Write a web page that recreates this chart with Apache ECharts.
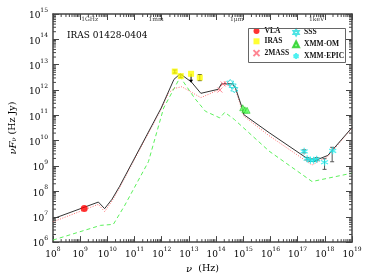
<!DOCTYPE html>
<html><head><meta charset="utf-8">
<script src="https://cdn.jsdelivr.net/npm/echarts@6/dist/echarts.min.js"></script>
<style>html,body{margin:0;padding:0;background:#fff}#c{width:374px;height:279px}</style>
</head><body><div id="c"></div>
<script>
// ---- data (log10 values) ----
const xTickExps = [8,9,10,11,12,13,14,15,16,17,18,19];
const yTickExps = [6,7,8,9,10,11,12,13,14,15];
const topLabelNames = ['1GHz','1mm','1\u03bcm','1keV'];
const topLabelLogNu = [9, 11.477, 14.477, 17.383];

const totalModel = [[8.0,6.92],[9.67,7.58],[9.90,7.32],[10.17,7.69],[10.45,8.20],[11.98,11.29],[12.45,12.42],[12.68,12.64],[13.09,12.32],[13.44,11.87],[14.08,12.03],[14.20,12.25],[14.61,12.25],[14.72,12.06],[14.96,11.29],[15.02,11.03],[15.95,10.32],[17.53,9.17],[18.11,9.42],[19.0,10.52]];
const redModel = [[8.0,6.80],[9.67,7.49],[9.90,7.20],[10.17,7.62],[10.45,8.15],[11.98,11.25],[12.25,11.88],[12.45,12.06],[12.74,12.13],[13.44,11.70],[14.08,12.0],[14.20,12.22],[14.61,12.22],[14.72,12.0],[14.96,11.20],[15.02,10.97],[15.95,10.20],[17.53,9.04],[18.11,9.38],[19.0,10.50]];
const greenModel = [[8.0,6.08],[9.75,6.66],[10.22,6.70],[10.63,7.43],[11.51,9.17],[12.07,11.29],[12.68,12.51],[13.21,11.68],[13.61,11.16],[14.14,10.90],[14.32,11.12],[14.67,10.84],[15.95,9.59],[17.53,8.39],[19.0,8.72]];

const vla = [[9.15,7.33]];
const iras = [[12.48,12.73],[12.70,12.55],[13.08,12.64],[13.40,12.49]];
const irasErr = [[12.48,12.67,12.79],[12.70,12.50,12.60],[13.40,12.37,12.61]];
const irasUpper = [[13.08,12.64]];
const twomass = [[14.14,12.00],[14.26,12.24],[14.38,12.25]];
const sss = [[14.52,12.28],[14.61,12.17],[14.67,12.03]];
const xmmom = [[14.98,11.30],[15.06,11.22],[15.14,11.20]];
const epic = [[17.24,9.58],[17.35,9.29],[17.47,9.23],[17.59,9.23],[17.70,9.27],[17.99,9.15],[18.29,9.60]];
const epicErr = [[17.24,9.52,9.64],[17.35,9.24,9.34],[17.47,9.18,9.28],[17.59,9.18,9.28],[17.70,9.21,9.33],[17.99,8.87,9.29],[18.27,9.17,9.74]];

// ---- axis decoration ----
const F = 'DejaVu Serif';
const FL = 'Liberation Serif';
const X_MIN = xTickExps[0], X_MAX = xTickExps[xTickExps.length-1];
const Y_MIN = yTickExps[0], Y_MAX = yTickExps[yTickExps.length-1];
function minorList(a,b){const o=[];for(let d=a;d<b;d++)for(let k=2;k<=9;k++)o.push(d+Math.log10(k));return o;}
const xMinor = minorList(X_MIN, X_MAX);
const yMinor = minorList(Y_MIN, Y_MAX);
const AX = '#444';

const chart = echarts.init(document.getElementById('c'), null, {renderer:'canvas'});
const supRich = {
  a:{fontFamily:F,fontSize:9,lineHeight:13,color:'#000',verticalAlign:'bottom'},
  b:{fontFamily:F,fontSize:6,lineHeight:8,color:'#000',verticalAlign:'top'}
};
const supFmt = v => '{a|10}{b|' + Math.round(v) + '}';

function axisCommon(pos, showLabel){
  return {
    type:'value', position:pos,
    min: (pos==='bottom'||pos==='top') ? X_MIN : Y_MIN,
    max: (pos==='bottom'||pos==='top') ? X_MAX : Y_MAX,
    interval:1,
    axisLine:{show:true, onZero:false, lineStyle:{color:AX, width:1.5}},
    axisTick:{show:true, inside:true, length:6, lineStyle:{color:AX, width:1}},
    splitLine:{show:false},
    axisLabel:{show:showLabel, formatter:supFmt, rich:supRich, margin:4}
  };
}

const xAxisB = axisCommon('bottom', true);
xAxisB.name = '{i|\u03bd}  (Hz)';
xAxisB.nameLocation = 'middle';
xAxisB.nameGap = 14;
xAxisB.nameTextStyle = {fontFamily:F, fontSize:9.5, color:'#000', rich:{i:{fontFamily:F,fontStyle:'italic',fontSize:10,color:'#000'}}};
const xAxisT = axisCommon('top', false);
const yAxisL = axisCommon('left', true);
yAxisL.axisLabel.margin = 5;
yAxisL.name = '{i|\u03bdF}{s|\u03bd} (Hz Jy)';
yAxisL.nameLocation = 'middle';
yAxisL.nameGap = 27;
yAxisL.nameTextStyle = {fontFamily:F, fontSize:9.5, color:'#000', rich:{i:{fontFamily:F,fontStyle:'italic',fontSize:10,color:'#000'}, s:{fontFamily:F,fontStyle:'italic',fontSize:6.5,color:'#000',verticalAlign:'bottom',lineHeight:10}}};
const yAxisR = axisCommon('right', false);

function tickSeries(list, isX){
  return {
    type:'custom', silent:true, clip:false, z:5,
    data: list.map(v => isX ? [v, Y_MIN] : [X_MIN, v]),
    encode: {x:0, y:1},
    renderItem:(p, api) => {
      const st = {stroke:AX, lineWidth:1};
      if (isX){
        const v = api.value(0);
        const b = api.coord([v, Y_MIN]), t = api.coord([v, Y_MAX]);
        return {type:'group', children:[
          {type:'line', shape:{x1:b[0],y1:b[1],x2:b[0],y2:b[1]-3}, style:st},
          {type:'line', shape:{x1:t[0],y1:t[1],x2:t[0],y2:t[1]+3}, style:st}]};
      } else {
        const v = api.value(1);
        const l = api.coord([X_MIN, v]), r = api.coord([X_MAX, v]);
        return {type:'group', children:[
          {type:'line', shape:{x1:l[0],y1:l[1],x2:l[0]+3,y2:l[1]}, style:st},
          {type:'line', shape:{x1:r[0],y1:r[1],x2:r[0]-3,y2:r[1]}, style:st}]};
      }
    }
  };
}
function errSeries(list, color){
  return {
    type:'custom', silent:true, z:6,
    data:list, encode:{x:0, y:[1,2]},
    renderItem:(p, api) => {
      const lo = api.coord([api.value(0), api.value(1)]);
      const hi = api.coord([api.value(0), api.value(2)]);
      const st = {stroke:color, lineWidth:1};
      return {type:'group', children:[
        {type:'line', shape:{x1:lo[0],y1:lo[1],x2:hi[0],y2:hi[1]}, style:st},
        {type:'line', shape:{x1:lo[0]-2,y1:lo[1],x2:lo[0]+2,y2:lo[1]}, style:st},
        {type:'line', shape:{x1:hi[0]-2,y1:hi[1],x2:hi[0]+2,y2:hi[1]}, style:st}]};
    }
  };
}
const arrowSeries = {
  type:'custom', silent:true, z:6, data:irasUpper, encode:{x:0,y:1},
  renderItem:(p, api) => {
    const c = api.coord([api.value(0), api.value(1)]);
    return {type:'group', children:[
      {type:'line', shape:{x1:c[0],y1:c[1],x2:c[0],y2:c[1]+8}, style:{stroke:'#000',lineWidth:1}},
      {type:'polygon', shape:{points:[[c[0]-2,c[1]+6],[c[0]+2,c[1]+6],[c[0],c[1]+9]]}, style:{fill:'#000'}}]};
  }
};

const lineCommon = {type:'line', symbol:'none', smooth:false, silent:true, animation:false};
const starPath = 'path://M5,0L6.44,2.5L9.33,2.5L7.89,5L9.33,7.5L6.44,7.5L5,10L3.56,7.5L0.67,7.5L2.11,5L0.67,2.5L3.56,2.5Z';
const xPath = 'path://M0,0L10,10M10,0L0,10';
const astPath = 'path://M5,0L5,10M0.67,2.5L9.33,7.5M0.67,7.5L9.33,2.5';

const legendBase = {
  orient:'vertical', top:27, itemWidth:6, itemHeight:6, itemGap:2.3, selectedMode:false, padding:0,
  textStyle:{fontFamily:FL, fontSize:7.5, fontWeight:'bold', color:'#111', lineHeight:8}
};

chart.setOption({
  animation:false,
  backgroundColor:'#fff',
  grid:{left:38, right:22, top:14, bottom:32},
  xAxis:[xAxisB, xAxisT],
  yAxis:[yAxisL, yAxisR],
  legend:[
    Object.assign({}, legendBase, {left:251, data:['VLA','IRAS','2MASS']}),
    Object.assign({}, legendBase, {left:291, data:['SSS','XMM-OM','XMM-EPIC']})
  ],
  graphic:[
    {type:'rect', left:246, top:26, shape:{width:97, height:34}, style:{fill:'none', stroke:'#666', lineWidth:1}, z:100},
    {type:'text', left:67, top:31, style:{text:'IRAS 01428-0404', font:'9px "DejaVu Serif"', fill:'#000'}}
  ],
  series:[
    tickSeries(xMinor, true),
    tickSeries(yMinor, false),
    Object.assign({}, lineCommon, {name:'green', data:greenModel, z:2, lineStyle:{color:'#5cf05c', width:1, type:[4,3]}}),
    Object.assign({}, lineCommon, {name:'red', data:redModel, z:3, lineStyle:{color:'#ff7070', width:1, type:[1,1.5]}}),
    Object.assign({}, lineCommon, {name:'total', data:totalModel, z:4, lineStyle:{color:'#333', width:1}}),
    errSeries(irasErr, '#333'),
    errSeries(epicErr, '#555'),
    arrowSeries,
    {type:'scatter', name:'VLA', data:vla, symbol:'circle', symbolSize:7, z:8, itemStyle:{color:'#ff0000'}},
    {type:'scatter', name:'IRAS', data:iras, symbol:'rect', symbolSize:6, z:8, itemStyle:{color:'#ffff00'}},
    {type:'scatter', name:'2MASS', data:twomass, symbol:xPath, symbolSize:5, z:8, itemStyle:{color:'none', borderColor:'#ff6677', borderWidth:1}},
    {type:'scatter', name:'SSS', data:sss, symbol:starPath, symbolSize:7, z:8, itemStyle:{color:'none', borderColor:'#22dddd', borderWidth:1}},
    {type:'scatter', name:'XMM-OM', data:xmmom, symbol:'triangle', symbolSize:6, z:8, itemStyle:{color:'#66ff66', borderColor:'#22cc22', borderWidth:0.8}},
    {type:'scatter', name:'XMM-EPIC', data:epic, symbol:astPath, symbolSize:7, z:8, itemStyle:{color:'none', borderColor:'#22eeee', borderWidth:1.2}},
    {type:'scatter', name:'toplabels', silent:true, symbolSize:0, z:9,
      data: topLabelNames.map((n,i) => ({name:n, value:[topLabelLogNu[i], 14.78]})),
      label:{show:true, position:'right', distance:1, formatter:'{b}', fontFamily:F, fontSize:6, color:'#000'}}
  ]
});
</script></body></html>
